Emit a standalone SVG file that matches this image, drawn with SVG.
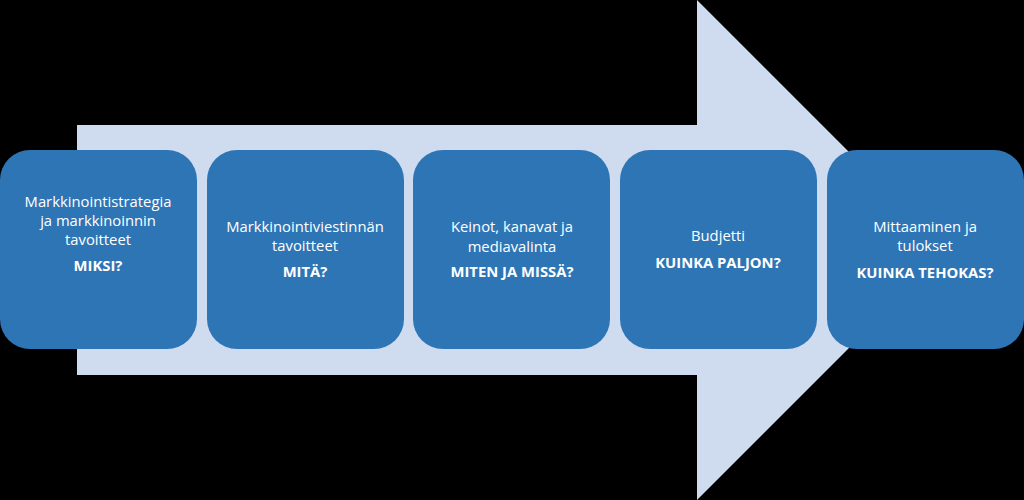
<svg xmlns="http://www.w3.org/2000/svg" width="1024" height="500" viewBox="0 0 1024 500">
<style>
.box{fill:#2e75b6;}
.t{font-family:"Open Sans","Noto Sans",sans-serif;font-size:14.8px;fill:#ffffff;text-anchor:middle;}
.b{font-weight:bold;}
</style>
<rect width="1024" height="500" fill="#000000"/>
<g id="arrow">
<polygon points="77,125 697,125 697,0 947,250 697,500 697,375 77,375" fill="#cfdbee"/>
</g>
<g id="connectors"></g>
<g id="node1">
<rect class="box" x="0" y="150" width="197" height="199" rx="30"/>
<text class="t" x="98" y="207">Markkinointistrategia</text>
<text class="t" x="98" y="226">ja markkinoinnin</text>
<text class="t" x="98" y="245">tavoitteet</text>
<text class="t b" x="98" y="271">MIKSI?</text>
</g>
<g id="node2">
<rect class="box" x="207" y="150" width="197" height="199" rx="30"/>
<text class="t" x="305" y="232">Markkinointiviestinnän</text>
<text class="t" x="305" y="251">tavoitteet</text>
<text class="t b" x="305" y="277">MITÄ?</text>
</g>
<g id="node3">
<rect class="box" x="413" y="150" width="197" height="199" rx="30"/>
<text class="t" x="512" y="232">Keinot, kanavat ja</text>
<text class="t" x="512" y="252">mediavalinta</text>
<text class="t b" x="512" y="277">MITEN JA MISSÄ?</text>
</g>
<g id="node4">
<rect class="box" x="620" y="150" width="197" height="199" rx="30"/>
<text class="t" x="718" y="241">Budjetti</text>
<text class="t b" x="718" y="268">KUINKA PALJON?</text>
</g>
<g id="node5">
<rect class="box" x="827" y="150" width="197" height="199" rx="30"/>
<text class="t" x="925" y="232">Mittaaminen ja</text>
<text class="t" x="925" y="251">tulokset</text>
<text class="t b" x="925" y="278">KUINKA TEHOKAS?</text>
</g>
</svg>
